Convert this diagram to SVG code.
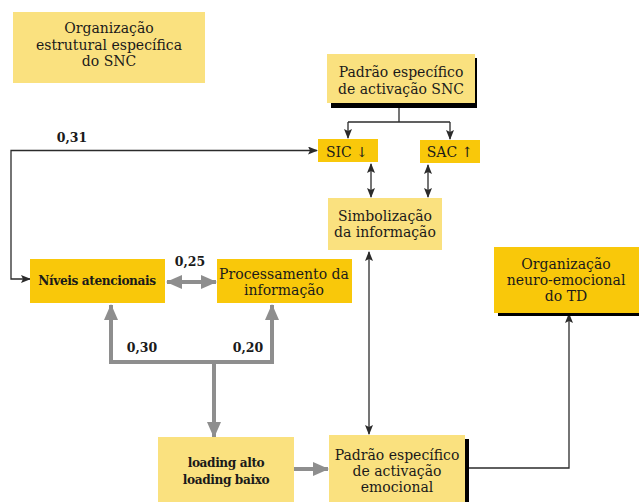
<svg xmlns="http://www.w3.org/2000/svg" width="639" height="502" viewBox="0 0 639 502">
<style>
.light{fill:#FAE17F}
.gold{fill:#F9C80A}
.shadow{fill:#000}
text{font-family:"DejaVu Serif","Liberation Serif",serif;fill:#1a1a1a;text-anchor:middle}
.t{font-size:14px}
.b{font-size:13.5px;font-weight:bold;font-family:"DejaVu Serif Condensed","DejaVu Serif",serif;font-stretch:condensed;letter-spacing:-0.4px}
.n{font-size:12.5px;font-weight:bold}
.thin{fill:none;stroke:#2b2b2b;stroke-width:1.3}
.gray{fill:none;stroke:#8E8E8E;stroke-width:4}
</style>
<defs>
<marker id="a" viewBox="0 0 10 8" refX="9" refY="4" markerWidth="10" markerHeight="8" markerUnits="userSpaceOnUse" orient="auto-start-reverse">
<path d="M0,0 L10,4 L0,8 L2,4 z" fill="#2b2b2b"/>
</marker>
<marker id="g" viewBox="0 0 16 14" refX="15" refY="7" markerWidth="16" markerHeight="14" markerUnits="userSpaceOnUse" orient="auto-start-reverse">
<path d="M0,0 L16,7 L0,14 z" fill="#8E8E8E"/>
</marker>
</defs>
<rect width="639" height="502" fill="#fff"/>

<g id="connectors">
<path class="thin" d="M30,279 H11 V150.5 H317" marker-start="url(#a)" marker-end="url(#a)"/>
<path class="thin" d="M399,108 V122"/>
<path class="thin" d="M348,122 H450"/>
<path class="thin" d="M348,122 V138" marker-end="url(#a)"/>
<path class="thin" d="M450,122 V139" marker-end="url(#a)"/>
<path class="thin" d="M371,164 V197" marker-start="url(#a)" marker-end="url(#a)"/>
<path class="thin" d="M428,165 V197" marker-start="url(#a)" marker-end="url(#a)"/>
<path class="thin" d="M369,252 V434" marker-start="url(#a)" marker-end="url(#a)"/>
<path class="thin" d="M469,468 H569 V314" marker-end="url(#a)"/>
<path class="gray" d="M167,282 H216" marker-start="url(#g)" marker-end="url(#g)"/>
<path class="gray" d="M111,305 V362 H272 V305" marker-start="url(#g)" marker-end="url(#g)"/>
<path class="gray" d="M214,362 V437" marker-end="url(#g)"/>
<path class="gray" d="M294,469 H328" marker-end="url(#g)"/>
<text class="n" x="72" y="142">0,31</text>
<text class="n" x="190" y="266">0,25</text>
<text class="n" x="142" y="352">0,30</text>
<text class="n" x="248" y="352">0,20</text>
</g>

<g id="org-estrutural">
<rect class="light" x="13" y="12" width="192" height="71"/>
<text class="t" x="109" y="33">Organização</text>
<text class="t" x="109" y="50">estrutural específica</text>
<text class="t" x="109" y="66">do SNC</text>
</g>

<g id="padrao-snc">
<rect class="shadow" x="331" y="58" width="146" height="50"/>
<rect class="light" x="327" y="54" width="148" height="49"/>
<text class="t" x="401" y="77">Padrão específico</text>
<text class="t" x="401" y="94">de activação SNC</text>
</g>

<g id="sic">
<rect class="gold" x="318" y="139" width="60" height="23"/>
<text class="t" x="347" y="157">SIC ↓</text>
</g>

<g id="sac">
<rect class="gold" x="420" y="140" width="60" height="23"/>
<text class="t" x="450" y="157">SAC ↑</text>
</g>

<g id="simbolizacao">
<rect class="light" x="328" y="198" width="114" height="52"/>
<text class="t" x="385" y="221">Simbolização</text>
<text class="t" x="385" y="237">da informação</text>
</g>

<g id="niveis">
<rect class="gold" x="30" y="259" width="135" height="44"/>
<text class="b" x="97" y="285">Níveis atencionais</text>
</g>

<g id="processamento">
<rect class="gold" x="217" y="259" width="135" height="44"/>
<text class="t" x="284" y="279">Processamento da</text>
<text class="t" x="284" y="295">informação</text>
</g>

<g id="loading">
<rect class="light" x="158" y="437" width="136" height="65"/>
<text class="b" x="226" y="467">loading alto</text>
<text class="b" x="226" y="484">loading baixo</text>
</g>

<g id="padrao-emocional">
<rect class="shadow" x="333" y="439" width="136" height="70"/>
<rect class="light" x="329" y="435" width="136" height="67"/>
<text class="t" x="397" y="460">Padrão específico</text>
<text class="t" x="397" y="476">de activação</text>
<text class="t" x="397" y="492">emocional</text>
</g>

<g id="org-neuro">
<rect class="shadow" x="498" y="251" width="145" height="65"/>
<rect class="gold" x="494" y="247" width="145" height="66"/>
<text class="t" x="566" y="269">Organização</text>
<text class="t" x="566" y="285">neuro-emocional</text>
<text class="t" x="566" y="301">do TD</text>
</g>
</svg>
